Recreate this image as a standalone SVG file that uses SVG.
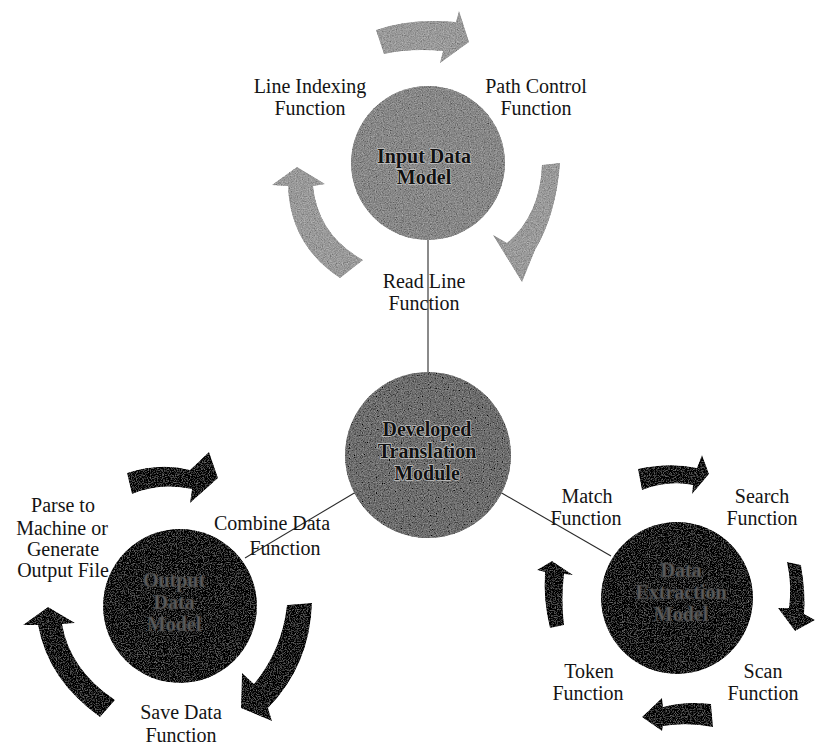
<svg xmlns="http://www.w3.org/2000/svg" width="815" height="749" viewBox="0 0 815 749">
<style>
.lbl{font-family:"Liberation Serif","Times New Roman",serif;font-size:20px;fill:#141414;text-anchor:middle}
.ttl{font-family:"Liberation Serif","Times New Roman",serif;font-size:20px;font-weight:bold;text-anchor:middle}
.halo{fill:#111;stroke:#c4c4c4;stroke-width:1.4;paint-order:stroke}
.dim{fill:#5a5a5a;stroke:#3a3a3a;stroke-width:0.6}
.light{fill:#9a9a9a}
.dark{fill:#1c1c1c}
.conn{stroke:#2a2a2a;stroke-width:1.1;fill:none}
</style>
<defs>
<filter id="grain" x="0" y="0" width="100%" height="100%">
<feTurbulence type="fractalNoise" baseFrequency="0.85" numOctaves="2" seed="7" result="n"/>
<feColorMatrix in="n" type="matrix" values="0.33 0.33 0.33 0 0 0.33 0.33 0.33 0 0 0.33 0.33 0.33 0 0 0 0 0 0 1" result="g"/>
<feComposite in="g" in2="SourceGraphic" operator="arithmetic" k1="0" k2="0.8" k3="1" k4="-0.4" result="mix"/>
<feComposite in="mix" in2="SourceGraphic" operator="in"/>
</filter>
</defs>
<rect width="815" height="749" fill="#ffffff"/>

<g id="connectors">
<line class="conn" x1="428" y1="238" x2="428" y2="374"/>
<line class="conn" x1="356" y1="492" x2="245" y2="558"/>
<line class="conn" x1="500" y1="492" x2="611" y2="556"/>
</g>

<g id="labels-input">
<text class="lbl" x="310" y="93">Line Indexing</text>
<text class="lbl" x="310" y="115">Function</text>
<text class="lbl" x="536" y="93">Path Control</text>
<text class="lbl" x="536" y="115">Function</text>
<text class="lbl" x="424" y="288">Read Line</text>
<text class="lbl" x="424" y="310">Function</text>
</g>

<g id="arrows-input" class="light" filter="url(#grain)">
<path d="M376,30 Q410,18 456,22 L459,11 L469,42 L440,63 L443,51 Q410,48 384,54 Z"/>
<path d="M542,165 Q540,215 507,243 L493,235 L522,282 L535,250 Q556,215 560,163 Z"/>
<path d="M288,186 L272,185 L297,167 L325,184 L313,186 Q318,235 363,260 L340,278 Q290,245 288,186 Z"/>
</g>

<g id="node-input">
<circle cx="428" cy="163" r="77" fill="#888888" filter="url(#grain)"/>
<text class="ttl halo" x="424" y="163">Input Data</text>
<text class="ttl halo" x="424" y="184">Model</text>
</g>

<g id="node-translation">
<circle cx="428" cy="455" r="83" fill="#6e6e6e" filter="url(#grain)"/>
<text class="ttl halo" x="427" y="436">Developed</text>
<text class="ttl halo" x="427" y="458">Translation</text>
<text class="ttl halo" x="427" y="480">Module</text>
</g>

<g id="labels-output">
<text class="lbl" x="63" y="512">Parse to</text>
<text class="lbl" x="62" y="535">Machine or</text>
<text class="lbl" x="63" y="556">Generate</text>
<text class="lbl" x="63" y="577">Output File</text>
<text class="lbl" x="272" y="530">Combine Data</text>
<text class="lbl" x="285" y="555">Function</text>
<text class="lbl" x="181" y="719">Save Data</text>
<text class="lbl" x="181" y="742">Function</text>
</g>

<g id="arrows-output" class="dark" filter="url(#grain)">
<path d="M127,473 Q160,462 190,470 L209,452 L218,478 L190,503 L192,489 Q160,482 132,494 Z"/>
<path d="M287,605 L312,603 Q310,665 268,708 L272,721 L241,708 L242,673 L254,684 Q282,650 287,605 Z"/>
<path d="M38,625 L23,625 L48,607 L75,623 L62,624 Q70,670 115,700 L100,717 Q48,680 38,625 Z"/>
</g>

<g id="node-output">
<circle cx="180" cy="606" r="77" fill="#1c1c1c" filter="url(#grain)"/>
<text class="ttl dim" x="174" y="587">Output</text>
<text class="ttl dim" x="174" y="609">Data</text>
<text class="ttl dim" x="174" y="631">Model</text>
</g>

<g id="labels-extraction">
<text class="lbl" x="587" y="503">Match</text>
<text class="lbl" x="586" y="525">Function</text>
<text class="lbl" x="762" y="503">Search</text>
<text class="lbl" x="762" y="525">Function</text>
<text class="lbl" x="589" y="678">Token</text>
<text class="lbl" x="588" y="700">Function</text>
<text class="lbl" x="763" y="678">Scan</text>
<text class="lbl" x="763" y="700">Function</text>
</g>

<g id="arrows-extraction" class="dark" filter="url(#grain)">
<path d="M638,469 Q670,462 697,468 L702,455 L709,474 L692,494 L693,485 Q668,480 642,490 Z"/>
<path d="M787,562 L801,565 Q806,595 804,614 L815,620 L795,631 L778,608 L789,608 Q792,585 787,562 Z"/>
<path d="M711,704 Q685,701 663,707 L662,698 L642,717 L662,731 L663,726 Q688,722 713,727 Z"/>
<path d="M545,572 L537,570 L552,561 L573,575 L564,574 Q561,600 564,625 L550,628 Q543,600 545,572 Z"/>
</g>

<g id="node-extraction">
<circle cx="677" cy="598" r="76" fill="#1c1c1c" filter="url(#grain)"/>
<text class="ttl dim" x="681" y="577">Data</text>
<text class="ttl dim" x="681" y="599">Extraction</text>
<text class="ttl dim" x="681" y="621">Model</text>
</g>
</svg>
